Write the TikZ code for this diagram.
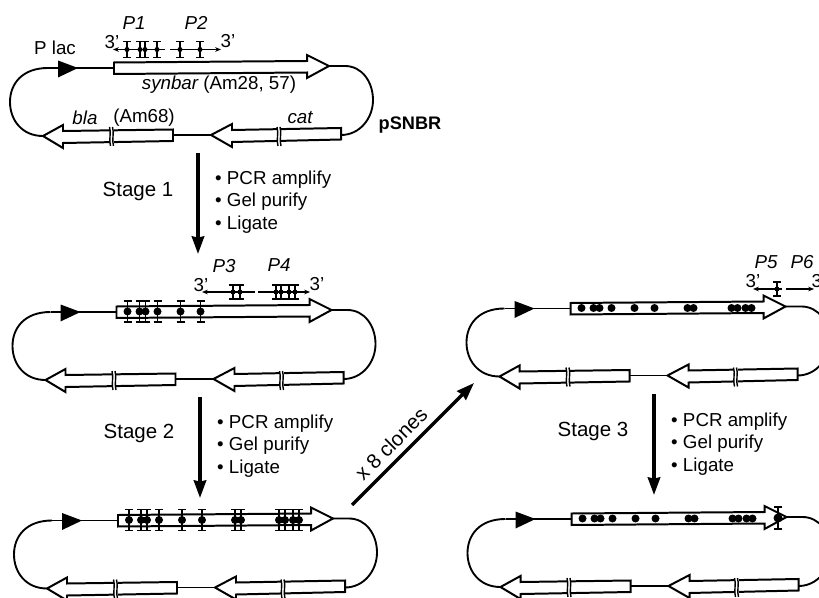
\documentclass[tikz,border=0pt]{standalone}
\usepackage{fontspec}
\setmainfont{Liberation Sans}
\usetikzlibrary{arrows.meta}
\tikzset{
  gene/.style={draw, line width=1.7pt, fill=white, line join=miter},
  wire/.style={line width=1.6pt},
  primer/.style={line width=1.2pt, -{Stealth[length=5pt, width=4pt]}},
  stagearrow/.style={line width=2.9pt, -{Stealth[length=15pt, width=10.5pt, inset=1pt]}},
  lbl/.style={inner sep=0pt, font=\fontsize{16}{19.2}\selectfont},
  stagelbl/.style={inner sep=0pt, font=\fontsize{17.5}{20}\selectfont},
  steps/.style={lbl, anchor=west, align=left}
}
% one plasmid, in pixels of the first one
\newcommand{\plasmidbase}{
  \draw[wire] (48,68) .. controls (22,68) and (10,84) .. (10,102) .. controls (10,120) and (22,136) .. (43,136);
  \draw[wire] (329,66) -- (345,66) .. controls (362,66) and (373,82) .. (373,100) .. controls (373,118) and (360,135) .. (341,135);
  \draw[wire] (48,68) -- (114,68);
  \draw[wire] (173,135) -- (211,135);
  \fill (58,60.5) -- (78,68) -- (58,77.5) -- cycle;
  \draw[gene] (114,62.5) -- (114,74) -- (307,72.5) -- (307,78) -- (329,66) -- (307,55) -- (307,61) -- cycle;
  \draw[gene] (43,136) -- (63,125) -- (63,131) -- (173,129.5) -- (173,141) -- (63,143) -- (63,148) -- cycle;
  \draw[gene] (211,135) -- (232,124) -- (232,130) -- (341,128) -- (341,139.5) -- (232,142) -- (232,147) -- cycle;
  \foreach \b in {110.5,278} {
    \fill[white] (\b-1,126) rectangle (\b+3,146);
    \draw[line width=1.2pt] (\b-1,127) .. controls (\b+1,133) and (\b-2,140) .. (\b,146);
    \draw[line width=1.2pt] (\b+2,127) .. controls (\b+4,133) and (\b+1,140) .. (\b+3,146);
  }
}
\newcommand{\mutdot}[3]{\fill (#1,#2) circle (#3);}
\newcommand{\mutbar}[3]{
  \draw[line width=1.5pt] (#1,#2-#3) -- (#1,#2+#3);
  \draw[line width=1.5pt] (#1-4,#2-#3) -- (#1+4,#2-#3) (#1-4,#2+#3) -- (#1+4,#2+#3);
}
\begin{document}
\begin{tikzpicture}[x=0.03cm, y=-0.03cm]
\useasboundingbox (0,0) rectangle (819,598);
% plasmids
\begin{scope}
  \plasmidbase
\end{scope}
\begin{scope}[shift={(2.5,244)}]
  \plasmidbase
  \foreach \m in {125,137,143,155,178,198} { \mutbar{\m}{67.5}{10.5} \mutdot{\m}{67.5}{4} }
\end{scope}
\begin{scope}[shift={(4,452.5)}]
  \plasmidbase
  \foreach \m in {125,137,143,155,178,198,231,237,275,281,289,295} { \mutbar{\m}{67.5}{10.5} \mutdot{\m}{67.5}{4} }
\end{scope}
\begin{scope}[shift={(456.5,240.5)}]
  \plasmidbase
  \foreach \m in {125,137,143,155,178,198,231,237,275,281,289,295} { \mutdot{\m}{67.5}{4} }
\end{scope}
\begin{scope}[shift={(457.5,451)}]
  \plasmidbase
  \foreach \m in {125,137,143,155,178,198,231,237,275,281,289,295} { \mutdot{\m}{67.5}{4} }
  \mutbar{320.5}{67}{11} \mutdot{320.5}{67}{4.5}
\end{scope}
% primers
\coordinate (p1a) at (165,49.5); \coordinate (p1b) at (113,49.5);
\coordinate (p2a) at (170,49.5); \coordinate (p2b) at (221,49.5);
\draw[primer] (p1a) -- (p1b);
\draw[primer] (p2a) -- (p2b);
\foreach \m in {127,140,145,157,180,200} { \mutbar{\m}{49.5}{8} \mutdot{\m}{49.5}{2.5} }
\coordinate (p3a) at (255,292); \coordinate (p3b) at (202,292);
\coordinate (p4a) at (258,292); \coordinate (p4b) at (310,292);
\draw[primer] (p3a) -- (p3b);
\draw[primer] (p4a) -- (p4b);
\foreach \m in {233,240,276,281,289,295} { \mutbar{\m}{292}{7} \mutdot{\m}{292}{2.5} }
\coordinate (p5a) at (782,289); \coordinate (p5b) at (753,289);
\coordinate (p6a) at (786,289); \coordinate (p6b) at (814,289);
\draw[primer] (p5a) -- (p5b);
\draw[primer] (p6a) -- (p6b);
\mutbar{777}{289}{7} \mutdot{777}{289}{2.5}
% labels
\foreach \n/\x/\y/\t in {p1/134/23/P1, p2/196/23/P2, p3/224/266/P3, p4/279/265/P4, p5/766/262/P5, p6/802/262/P6, bla/85/118/bla, cat/300/118/cat}
  \node[lbl] (\n lbl) at (\x,\y) {\itshape\t};
\foreach \n/\x/\y in {ta/112/42, tb/228/41, tc/201/285, td/317/284, te/753/281, tf/819/281}
  \node[lbl] (\n) at (\x,\y) {3'};
\node[lbl] (plac) at (55,48) {P lac};
\node[lbl] (synbar) at (219,85) {\itshape synbar \upshape(Am28, 57)};
\node[lbl] (am68) at (144,118) {(Am68)};
\node[lbl, font=\fontsize{15.5}{19}\bfseries] (psnbr) at (410,125) {pSNBR};
% stages
\foreach \i/\ax/\ay/\by/\sx/\sy/\lx/\ly in {1/198/153/254/138/191/215/202, 2/200/397/498/139/433/217/446, 3/654/394/495/593/431/671/444}
{
  \coordinate (s\i a) at (\ax,\ay);
  \coordinate (s\i b) at (\ax,\by);
  \draw[stagearrow] (s\i a) -- (s\i b);
  \node[stagelbl] (stage\i) at (\sx,\sy) {Stage \i};
  \node[steps] (steps\i) at (\lx,\ly) {• PCR amplify\\• Gel purify\\• Ligate};
}
\coordinate (cla) at (352,505);
\coordinate (clb) at (474,383);
\draw[stagearrow] (cla) -- (clb);
\node[stagelbl, rotate=45] (clones) at (391,444) {x 8 clones};
\end{tikzpicture}
\end{document}
